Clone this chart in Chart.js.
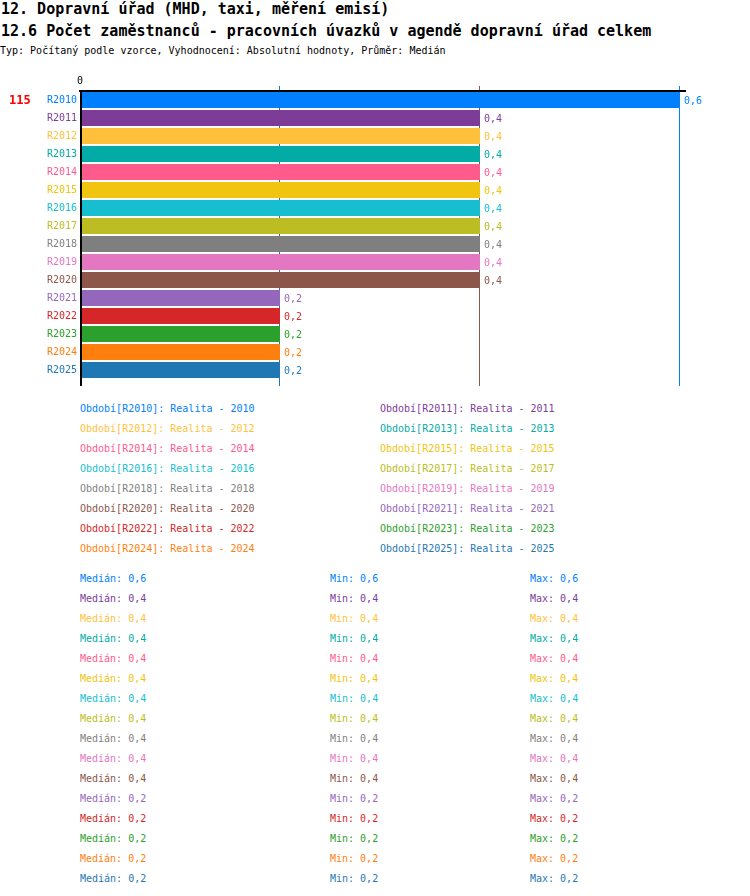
<!DOCTYPE html>
<html>
<head>
<meta charset="utf-8">
<script src="https://cdn.jsdelivr.net/npm/chart.js@4"></script>
<style>
  body { margin: 0; background: #fff; width: 750px; height: 896px; position: relative; overflow: hidden; }
  .t { position: absolute; white-space: pre; font-family: "DejaVu Sans Mono", "Liberation Mono", monospace; }
  .h { font-size: 15px; font-weight: bold; line-height: 16px; color: #000; }
  .s { font-size: 10px; line-height: 12px; }
  #chartBox { position: absolute; left: 0; top: 60px; width: 750px; height: 340px; }
</style>
</head>
<body>
<div class="t h" style="left:1px;top:1px">12. Dopravní úřad (MHD, taxi, měření emisí)</div>
<div class="t h" style="left:1px;top:23px">12.6 Počet zaměstnanců - pracovních úvazků v agendě dopravní úřad celkem</div>
<div class="t s" style="left:0px;top:45px">Typ: Počítaný podle vzorce, Vyhodnocení: Absolutní hodnoty, Průměr: Medián</div>
<div id="chartBox"><canvas id="chart" width="750" height="340"></canvas></div>
<div id="legend"></div>
<div id="stats"></div>
<script>
const categories = ['R2010', 'R2011', 'R2012', 'R2013', 'R2014', 'R2015', 'R2016', 'R2017',
                    'R2018', 'R2019', 'R2020', 'R2021', 'R2022', 'R2023', 'R2024', 'R2025'];
const years = ['2010', '2011', '2012', '2013', '2014', '2015', '2016', '2017',
               '2018', '2019', '2020', '2021', '2022', '2023', '2024', '2025'];
const values = [0.6, 0.4, 0.4, 0.4, 0.4, 0.4, 0.4, 0.4, 0.4, 0.4, 0.4, 0.2, 0.2, 0.2, 0.2, 0.2];
const medians = [0.6, 0.4, 0.4, 0.4, 0.4, 0.4, 0.4, 0.4, 0.4, 0.4, 0.4, 0.2, 0.2, 0.2, 0.2, 0.2];
const mins = [0.6, 0.4, 0.4, 0.4, 0.4, 0.4, 0.4, 0.4, 0.4, 0.4, 0.4, 0.2, 0.2, 0.2, 0.2, 0.2];
const maxs = [0.6, 0.4, 0.4, 0.4, 0.4, 0.4, 0.4, 0.4, 0.4, 0.4, 0.4, 0.2, 0.2, 0.2, 0.2, 0.2];
const xTicks = [0, 0.2, 0.4, 0.6];
const totalLabel = '115';

const colors = ['#0080ff', '#7d3c98', '#ffc13b', '#03aba6', '#ff5a8c', '#f1c40f', '#17becf', '#bcbd22',
                '#7f7f7f', '#e377c2', '#8c564b', '#9467bd', '#d62728', '#2ca02c', '#ff7f0e', '#1f77b4'];

const MONO = '"DejaVu Sans Mono", "Liberation Mono", monospace';
const fmt = v => v.toFixed(1).replace('.', ',');

// legend + stats as html text
let legendHtml = '';
categories.forEach((cat, i) => {
    let x = i % 2 === 0 ? 80 : 380;
    let y = 403 + Math.floor(i / 2) * 20;
    legendHtml += `<div class="t s" style="left:${x}px;top:${y}px;color:${colors[i]}">Období[${cat}]: Realita - ${years[i]}</div>`;
});
document.getElementById('legend').innerHTML = legendHtml;

let statsHtml = '';
categories.forEach((cat, i) => {
    let y = 573 + i * 20;
    statsHtml += `<div class="t s" style="left:80px;top:${y}px;color:${colors[i]}">Medián: ${fmt(medians[i])}</div>`;
    statsHtml += `<div class="t s" style="left:330px;top:${y}px;color:${colors[i]}">Min: ${fmt(mins[i])}</div>`;
    statsHtml += `<div class="t s" style="left:530px;top:${y}px;color:${colors[i]}">Max: ${fmt(maxs[i])}</div>`;
});
document.getElementById('stats').innerHTML = statsHtml;

// axis lines, coloured value lines, bar labels, total
const decor = {
    id: 'decor',
    beforeDatasetsDraw(chart) {
        const ctx = chart.ctx, xs = chart.scales.x, area = chart.chartArea;
        ctx.save();
        ctx.lineWidth = 1;
        values.forEach((v, i) => {
            if (v === 0) return;
            let px = Math.round(xs.getPixelForValue(v)) - 0.5;
            ctx.strokeStyle = colors[i];
            ctx.beginPath();
            ctx.moveTo(px, area.top - 5);
            ctx.lineTo(px, area.bottom + 7);
            ctx.stroke();
        });
        ctx.restore();
    },
    afterDatasetsDraw(chart) {
        const ctx = chart.ctx, xs = chart.scales.x, ys = chart.scales.y, area = chart.chartArea;
        const meta = chart.getDatasetMeta(0);
        ctx.save();
        ctx.strokeStyle = '#000';
        ctx.lineWidth = 2;
        let x0 = xs.getPixelForValue(0) + 1;
        ctx.beginPath();
        ctx.moveTo(x0, area.top);
        ctx.lineTo(x0, area.bottom + 7);
        ctx.stroke();
        ctx.beginPath();
        ctx.moveTo(x0 - 2, area.top);
        ctx.lineTo(area.right, area.top);
        ctx.stroke();

        ctx.font = '10px ' + MONO;
        ctx.textBaseline = 'middle';
        ctx.textAlign = 'left';
        meta.data.forEach((bar, i) => {
            ctx.fillStyle = colors[i];
            ctx.fillText(fmt(values[i]), bar.x + 4, bar.y + 1);
        });

        ctx.font = 'bold 12px ' + MONO;
        ctx.fillStyle = '#ff0000';
        ctx.fillText(totalLabel, 9, ys.getPixelForValue(0) + 1);
        ctx.restore();
    }
};

new Chart(document.getElementById('chart').getContext('2d'), {
    type: 'bar',
    data: {
        labels: categories,
        datasets: [{
            data: values,
            backgroundColor: colors,
            borderWidth: 0,
            barPercentage: 16 / 18,
            categoryPercentage: 1
        }]
    },
    options: {
        indexAxis: 'y',
        responsive: false,
        animation: false,
        devicePixelRatio: 1,
        layout: { padding: { left: 0, right: 64, top: 0, bottom: 21 } },
        plugins: { legend: { display: false }, tooltip: { enabled: false } },
        scales: {
            x: {
                position: 'top',
                min: 0,
                max: 0.606,
                afterBuildTicks: scale => { scale.ticks = xTicks.map(v => ({ value: v })); },
                afterFit: scale => { scale.height = 31; },
                grid: { display: false, drawTicks: false },
                border: { display: false },
                ticks: {
                    padding: 4,
                    color: '#000',
                    font: { family: MONO, size: 10 },
                    maxRotation: 0,
                    callback: v => v === 0 ? '0' : ''
                }
            },
            y: {
                afterFit: scale => { scale.width = 80; },
                grid: { display: false, drawTicks: false },
                border: { display: false },
                ticks: {
                    padding: 3,
                    font: { family: MONO, size: 10 },
                    color: c => colors[c.index]
                }
            }
        }
    },
    plugins: [decor]
});
</script>
</body>
</html>
